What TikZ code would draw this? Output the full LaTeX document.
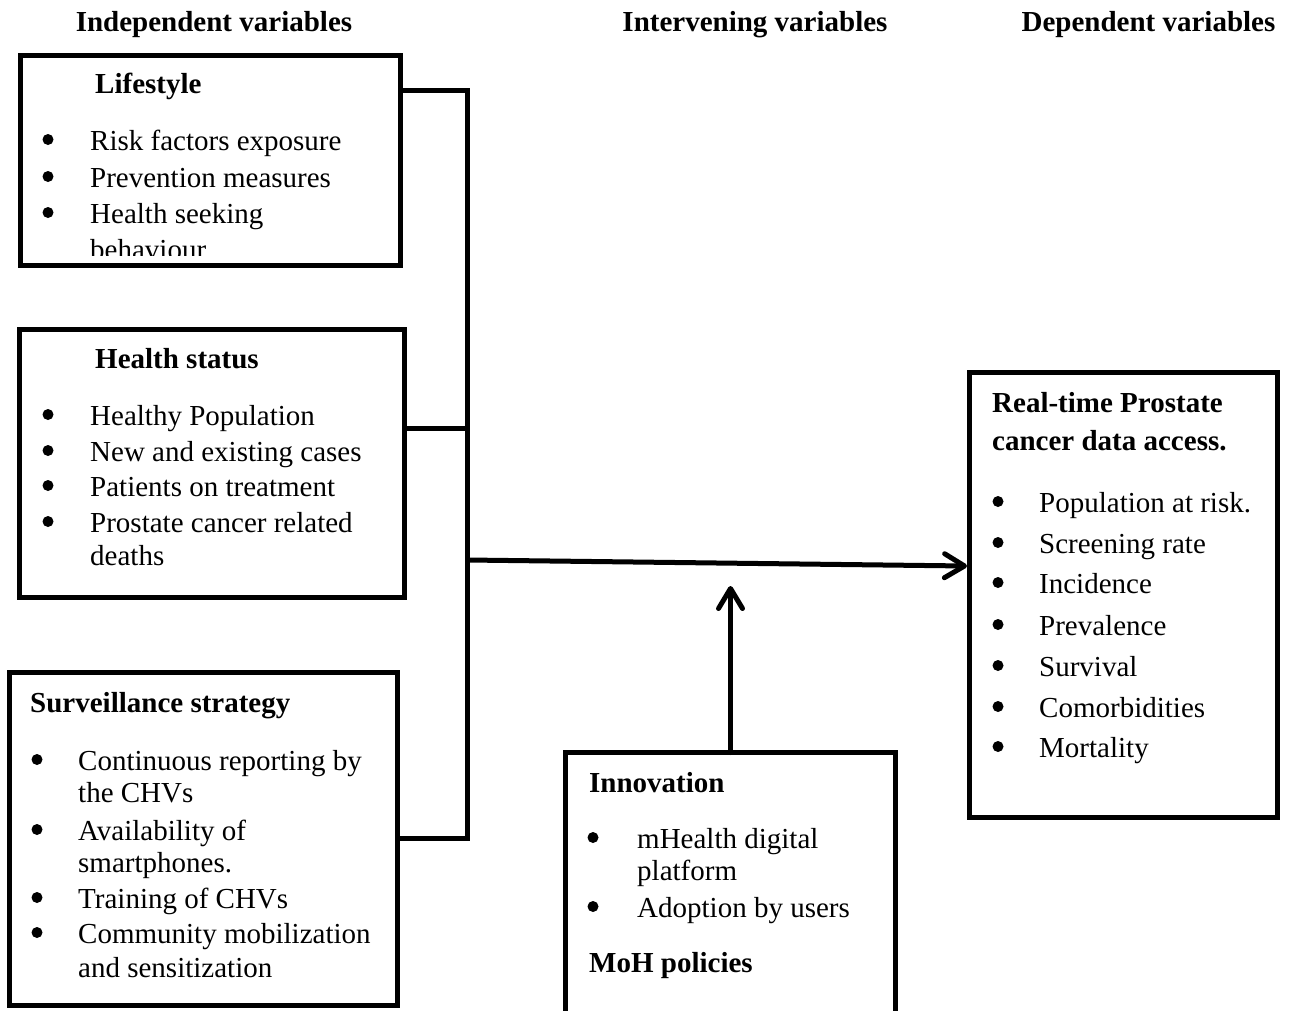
\documentclass[tikz,border=0pt]{standalone}
\usepackage{fontspec}
\setmainfont{Liberation Serif}
\usetikzlibrary{arrows.meta}
\tikzset{
  x=1pt, y=-1pt,
  box/.style={draw, line width=5pt, inner sep=0pt, outer sep=0pt},
  conn/.style={line width=5pt},
  arr/.style={line width=5pt, line cap=round, -{Straight Barb[length=20pt,width=24pt,line cap=round,line join=round]}},
  tx/.style={inner sep=0pt, anchor=base west, font=\fontsize{29}{35}\selectfont},
  hd/.style={inner sep=0pt, anchor=base west, font=\fontsize{29}{35}\selectfont\bfseries},
  hc/.style={inner sep=0pt, anchor=base, font=\fontsize{29}{35}\selectfont\bfseries},
  bt/.style={circle, fill=black, inner sep=0pt, minimum size=11pt, yshift=10.5pt},
}
\begin{document}
\begin{tikzpicture}
\clip (0,0) rectangle (1290,1010);
\fill[white] (0,0) rectangle (1290,1010);

% headers
\node[hc] (h1) at (214,31) {Independent variables};
\node[hc] (h2) at (755,31) {Intervening variables};
\node[hc] (h3) at (1148.5,31) {Dependent variables};

% boxes
\node[box, minimum width=380pt, minimum height=210pt] (life) at (210.5,160) {};
\node[box, minimum width=385pt, minimum height=268pt] (health) at (212,463.5) {};
\node[box, minimum width=388pt, minimum height=333pt] (surv) at (203.5,839) {};
\node[box, minimum width=330pt, minimum height=290pt] (innov) at (730.5,897.5) {};
\node[box, minimum width=308pt, minimum height=445pt] (real) at (1123.5,595) {};

% Lifestyle
\node[hd] (lt) at (95,93) {Lifestyle};
\node[bt] (lb1) at (48,150) {};
\node[tx] (l1) at (90,150) {Risk factors exposure};
\node[bt] (lb2) at (48,187) {};
\node[tx] (l2) at (90,187) {Prevention measures};
\node[bt] (lb3) at (48,223) {};
\node[tx] (l3) at (90,223) {Health seeking};
\begin{scope}
\clip (20,55) rectangle (400,255);
\node[tx] (l4) at (90,259) {behaviour.};
\end{scope}

% Health status
\node[hd] (ht) at (95,368) {Health status};
\node[bt] (hb1) at (48,425) {};
\node[tx] (s1) at (90,425) {Healthy Population};
\node[bt] (hb2) at (48,461) {};
\node[tx] (s2) at (90,461) {New and existing cases};
\node[bt] (hb3) at (48,496) {};
\node[tx] (s3) at (90,496) {Patients on treatment};
\node[bt] (hb4) at (48,532) {};
\node[tx] (s4) at (90,532) {Prostate cancer related};
\node[tx] (s5) at (90,565) {deaths};

% Surveillance strategy
\node[hd] (st) at (30,712) {Surveillance strategy};
\node[bt] (vb1) at (37,770) {};
\node[tx] (v1) at (78,770) {Continuous reporting by};
\node[tx] (v2) at (78,802) {the CHVs};
\node[bt] (vb2) at (37,840) {};
\node[tx] (v3) at (78,840) {Availability of};
\node[tx] (v4) at (78,872) {smartphones.};
\node[bt] (vb3) at (37,908) {};
\node[tx] (v5) at (78,908) {Training of CHVs};
\node[bt] (vb4) at (37,943) {};
\node[tx] (v6) at (78,943) {Community mobilization};
\node[tx] (v7) at (78,977) {and sensitization};

% Innovation
\node[hd] (it) at (589,792) {Innovation};
\node[bt] (ib1) at (593,848) {};
\node[tx] (i1) at (637,848) {mHealth digital};
\node[tx] (i2) at (637,880) {platform};
\node[bt] (ib2) at (593,917) {};
\node[tx] (i3) at (637,917) {Adoption by users};
\node[hd] (mt) at (589,972) {MoH policies};

% Real-time
\node[hd] (rt1) at (992,412) {Real-time Prostate};
\node[hd] (rt2) at (992,450) {cancer data access.};
\node[bt] (rb1) at (998,512) {};
\node[tx] (r1) at (1039,512) {Population at risk.};
\node[bt] (rb2) at (998,553) {};
\node[tx] (r2) at (1039,553) {Screening rate};
\node[bt] (rb3) at (998,593) {};
\node[tx] (r3) at (1039,593) {Incidence};
\node[bt] (rb4) at (998,635) {};
\node[tx] (r4) at (1039,635) {Prevalence};
\node[bt] (rb5) at (998,676) {};
\node[tx] (r5) at (1039,676) {Survival};
\node[bt] (rb6) at (998,717) {};
\node[tx] (r6) at (1039,717) {Comorbidities};
\node[bt] (rb7) at (998,757) {};
\node[tx] (r7) at (1039,757) {Mortality};

% connectors
\coordinate (j1) at (467.5,90);
\coordinate (j2) at (467.5,428);
\coordinate (j3) at (467.5,838);
\coordinate (m0) at (467.5,560);
\coordinate (mt1) at (967,566);
\coordinate (ut) at (730.5,586);
\draw[conn] (life.east |- j1) -- (j1) -- (j3) -- (surv.east |- j3);
\draw[conn] (health.east |- j2) -- (j2);
\draw[arr] (m0) -- (mt1);
\draw[arr] (innov.north) -- (ut);
\end{tikzpicture}
\end{document}
